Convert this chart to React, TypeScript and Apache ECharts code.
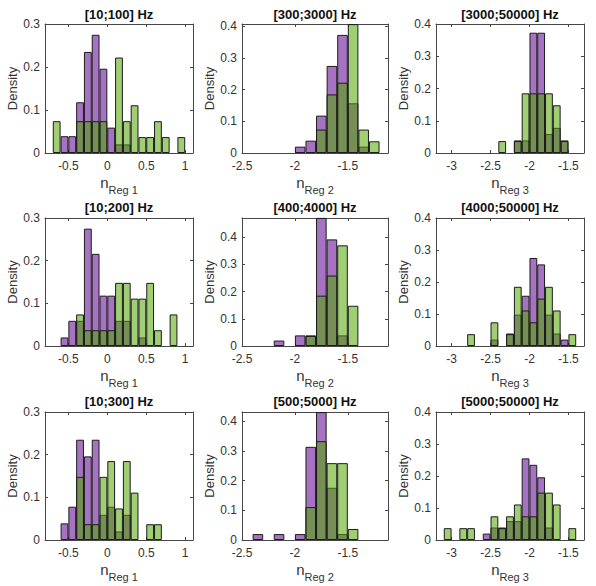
import React, { useEffect, useRef } from 'react';
import * as echarts from 'echarts';

// ---------- data ----------
const TITLES = [
  '[10;100] Hz', '[300;3000] Hz', '[3000;50000] Hz',
  '[10;200] Hz', '[400;4000] Hz', '[4000;50000] Hz',
  '[10;300] Hz', '[500;5000] Hz', '[5000;50000] Hz',
];
const X_SUBSCRIPTS = ['Reg 1', 'Reg 2', 'Reg 3'];
const Y_NAME = 'Density';
const BIN_WIDTH = 0.1;

const X_TICKS_COL = [[-0.5, 0, 0.5, 1], [-2.5, -2, -1.5], [-3, -2.5, -2, -1.5]];
const X_LIMITS_COL = [[-0.8, 1.1], [-2.5, -1.12], [-3.2, -1.3]];
const Y_TICKS_COL = [[0, 0.1, 0.2, 0.3], [0, 0.1, 0.2, 0.3, 0.4], [0, 0.1, 0.2, 0.3, 0.4]];
const Y_MAX = [0.3, 0.4074, 0.4, 0.3, 0.4706, 0.4, 0.3, 0.4314, 0.4];

// left edge of first bin of each panel
const BIN_START = [-0.7, -2.0, -2.4, -0.6, -2.2, -2.8, -0.6, -2.4, -3.1];

const PURPLE_1 = [0, 0.039, 0.039, 0.118, 0.235, 0.275, 0.196, 0.059, 0.02, 0.02, 0, 0, 0, 0, 0, 0, 0];
const GREEN_1 = [0.074, 0, 0, 0.074, 0.074, 0.074, 0.074, 0, 0.222, 0.074, 0.111, 0.037, 0.037, 0.074, 0.037, 0, 0.037];

const PURPLE_2 = [0.02, 0.039, 0.118, 0.275, 0.373, 0.157, 0.02, 0];
const GREEN_2 = [0, 0, 0.074, 0.185, 0.222, 0.407, 0.074, 0.037];

const PURPLE_3 = [0, 0, 0.039, 0.039, 0.373, 0.373, 0.059, 0.078, 0.039];
const GREEN_3 = [0.037, 0, 0.037, 0.185, 0.185, 0.185, 0.185, 0.148, 0.037];

const PURPLE_4 = [0.02, 0.059, 0.059, 0.275, 0.216, 0.118, 0.118, 0.059, 0.059, 0, 0.02, 0, 0, 0, 0];
const GREEN_4 = [0, 0, 0.074, 0.037, 0.037, 0.037, 0.037, 0.148, 0.148, 0.111, 0.111, 0.148, 0.037, 0, 0.074];

const PURPLE_5 = [0.02, 0, 0.039, 0.039, 0.471, 0.392, 0.039, 0];
const GREEN_5 = [0, 0, 0, 0.037, 0.185, 0.259, 0.37, 0.148];

const PURPLE_6 = [0, 0, 0, 0.02, 0, 0.039, 0.098, 0.157, 0.275, 0.255, 0.098, 0.039, 0.02, 0];
const GREEN_6 = [0.037, 0, 0, 0.074, 0, 0.037, 0.185, 0.111, 0.074, 0.148, 0.185, 0.111, 0, 0.037];

const PURPLE_7 = [0.039, 0.078, 0.235, 0.196, 0.235, 0.059, 0.078, 0.02, 0.059, 0, 0, 0, 0];
const GREEN_7 = [0, 0, 0.148, 0.037, 0.037, 0.148, 0.185, 0.074, 0.185, 0.111, 0, 0.037, 0.037];

const PURPLE_8 = [0.02, 0, 0.02, 0, 0.02, 0.314, 0.431, 0.176, 0.02, 0];
const GREEN_8 = [0, 0, 0, 0, 0, 0.111, 0.333, 0.259, 0.259, 0.037];

const PURPLE_9 = [0, 0, 0, 0, 0, 0.02, 0.039, 0.039, 0.059, 0.059, 0.255, 0.235, 0.196, 0.039, 0, 0, 0];
const GREEN_9 = [0.037, 0, 0.037, 0.037, 0, 0, 0.074, 0.037, 0.074, 0.111, 0.074, 0.074, 0.148, 0.148, 0.111, 0, 0.037];

const PURPLES = [PURPLE_1, PURPLE_2, PURPLE_3, PURPLE_4, PURPLE_5, PURPLE_6, PURPLE_7, PURPLE_8, PURPLE_9];
const GREENS = [GREEN_1, GREEN_2, GREEN_3, GREEN_4, GREEN_5, GREEN_6, GREEN_7, GREEN_8, GREEN_9];

// ---------- layout / style ----------
const GRID_LEFT = [45, 242, 436];
const GRID_WIDTH = [148, 146, 148];
const GRID_TOP = [24, 218, 412];
const GRID_HEIGHT = [129, 128, 128];
const TITLE_TOP = [8, 201, 395];

const FONT = '"Liberation Sans", Arial, Helvetica, sans-serif';
const PURPLE = 'rgba(91, 0, 142, 0.55)';
const GREEN = 'rgba(80, 165, 0, 0.55)';
const EDGE = '#1c1c1c';
const AXIS = '#474747';
const TEXT = '#333333';

function toPairs(start: number, vals: number[]) {
  const out: number[][] = [];
  vals.forEach((v, i) => {
    if (v > 0) out.push([Math.round((start + (i + 0.5) * BIN_WIDTH) * 1000) / 1000, v]);
  });
  return out;
}

function buildOption() {
  const grid: any[] = [];
  const xAxis: any[] = [];
  const yAxis: any[] = [];
  const series: any[] = [];
  const title: any[] = [];

  for (let p = 0; p < 9; p++) {
    const row = Math.floor(p / 3);
    const col = p % 3;
    grid.push({
      left: GRID_LEFT[col],
      top: GRID_TOP[row],
      width: GRID_WIDTH[col],
      height: GRID_HEIGHT[row],
      containLabel: false,
      outerBoundsMode: 'none',
    });
    title.push({
      text: TITLES[p],
      left: GRID_LEFT[col] + GRID_WIDTH[col] / 2,
      top: TITLE_TOP[row],
      textAlign: 'center',
      padding: 0,
      textStyle: { fontFamily: FONT, fontSize: 13, fontWeight: 'bold', color: '#111' },
    });
    const [xmin, xmax] = X_LIMITS_COL[col];
    const xb = xAxis.length;
    xAxis.push({
      type: 'value',
      gridIndex: p,
      position: 'bottom',
      min: xmin,
      max: xmax,
      splitLine: { show: false },
      axisLine: { show: true, onZero: false, lineStyle: { color: AXIS, width: 1 } },
      axisTick: { show: true, inside: true, length: 3, customValues: X_TICKS_COL[col], lineStyle: { color: AXIS } },
      axisLabel: {
        show: true, customValues: X_TICKS_COL[col], margin: 7,
        fontFamily: FONT, fontSize: 12, color: TEXT,
      },
      name: `{n|n}{s|${X_SUBSCRIPTS[col]}}`,
      nameLocation: 'middle',
      nameGap: 16,
      nameTextStyle: {
        fontFamily: FONT, color: TEXT,
        rich: {
          n: { fontFamily: FONT, fontSize: 15, color: TEXT },
          s: { fontFamily: FONT, fontSize: 11, color: TEXT, padding: [15, 0, 0, 0] },
        },
      },
    });
    xAxis.push({
      type: 'value',
      gridIndex: p,
      position: 'top',
      min: xmin,
      max: xmax,
      splitLine: { show: false },
      axisLine: { show: true, onZero: false, lineStyle: { color: AXIS, width: 1 } },
      axisTick: { show: true, inside: true, length: 3, customValues: X_TICKS_COL[col], lineStyle: { color: AXIS } },
      axisLabel: { show: false },
    });
    const yl = yAxis.length;
    yAxis.push({
      type: 'value',
      gridIndex: p,
      position: 'left',
      min: 0,
      max: Y_MAX[p],
      splitLine: { show: false },
      axisLine: { show: true, onZero: false, lineStyle: { color: AXIS, width: 1 } },
      axisTick: { show: true, inside: true, length: 3, customValues: Y_TICKS_COL[col], lineStyle: { color: AXIS } },
      axisLabel: {
        show: true, customValues: Y_TICKS_COL[col], margin: 5,
        fontFamily: FONT, fontSize: 12, color: TEXT,
      },
      name: Y_NAME,
      nameLocation: 'middle',
      nameGap: 24,
      nameTextStyle: { fontFamily: FONT, fontSize: 13, color: TEXT },
    });
    yAxis.push({
      type: 'value',
      gridIndex: p,
      position: 'right',
      min: 0,
      max: Y_MAX[p],
      splitLine: { show: false },
      axisLine: { show: true, onZero: false, lineStyle: { color: AXIS, width: 1 } },
      axisTick: { show: true, inside: true, length: 3, customValues: Y_TICKS_COL[col], lineStyle: { color: AXIS } },
      axisLabel: { show: false },
    });

    const common = {
      type: 'bar',
      xAxisIndex: xb,
      yAxisIndex: yl,
      barWidth: '100%',
      barGap: '-100%',
      clip: true,
      silent: true,
    };
    series.push({
      ...common,
      name: 'purple' + p,
      data: toPairs(BIN_START[p], PURPLES[p]),
      itemStyle: { color: PURPLE, borderColor: EDGE, borderWidth: 1 },
    });
    series.push({
      ...common,
      name: 'green' + p,
      data: toPairs(BIN_START[p], GREENS[p]),
      itemStyle: { color: GREEN, borderColor: EDGE, borderWidth: 1 },
    });
  }

  return {
    animation: false,
    backgroundColor: '#ffffff',
    textStyle: { fontFamily: FONT },
    title,
    grid,
    xAxis,
    yAxis,
    series,
  };
}

export default function App() {
  const ref = useRef<HTMLDivElement>(null);
  useEffect(() => {
    if (!ref.current) return;
    const chart = echarts.init(ref.current, undefined, { renderer: 'svg' });
    chart.setOption(buildOption() as any);
    return () => chart.dispose();
  }, []);
  return (
    <div
      ref={ref}
      style={{ position: 'absolute', left: 0, top: 0, width: 596, height: 586, background: '#fff' }}
    />
  );
}
